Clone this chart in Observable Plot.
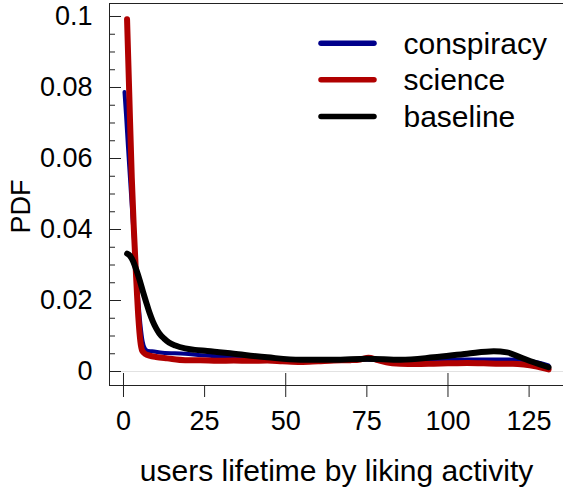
<!DOCTYPE html>
<html><head><meta charset="utf-8">
<script src="https://cdn.jsdelivr.net/npm/d3@7"></script>
<script src="https://cdn.jsdelivr.net/npm/@observablehq/plot@0.6"></script>
<style>html,body{margin:0;padding:0;background:#fff;}</style>
</head><body><div id="chart"></div>
<script>
// ---- data ----
const seriesNames = ["conspiracy", "science", "baseline"];
const seriesColors = ["#00008B", "#B00000", "#000000"];

const conspiracyX = [0.31, 0.8, 1.4, 2.0, 2.8, 3.6, 4.4, 5.2, 5.9, 6.6, 7.5, 8.8, 12, 19, 24, 35, 45, 55, 65, 75, 85, 95, 105, 115, 122, 127, 131];
const conspiracyY = [0.0787, 0.072, 0.063, 0.0545, 0.043, 0.032, 0.022, 0.0135, 0.0085, 0.0065, 0.0058, 0.0057, 0.0053, 0.0050, 0.0046, 0.0041, 0.0037, 0.0034, 0.0033, 0.0033, 0.0032, 0.0033, 0.0034, 0.0034, 0.0033, 0.0027, 0.0017];

const scienceX = [1.1, 1.8, 2.55, 3.2, 3.9, 4.6, 5.2, 5.8, 6.8, 8, 10, 13.5, 19, 23.7, 29, 34, 39, 44.3, 49, 54.5, 60, 64.8, 70, 73, 75.5, 78, 81, 85.4, 90, 95.6, 100, 105.9, 111, 116.2, 120, 123.4, 127, 131];
const scienceY = [0.0992, 0.0775, 0.0547, 0.040, 0.0266, 0.015, 0.0085, 0.0058, 0.0049, 0.0045, 0.0041, 0.0037, 0.0032, 0.0032, 0.0030, 0.0031, 0.0030, 0.0031, 0.0029, 0.0027, 0.0029, 0.0031, 0.0032, 0.0034, 0.0039, 0.0033, 0.0026, 0.0022, 0.0021, 0.0022, 0.0023, 0.0024, 0.0023, 0.0022, 0.0022, 0.0020, 0.0015, 0.0006];

const baselineX = [1.13, 2, 3, 4, 5, 6, 7, 8, 9, 10, 11, 12.5, 14, 16, 19, 22, 25.8, 34, 44.3, 54.5, 64.8, 75.1, 85.4, 95.6, 105.9, 114.1, 118.2, 122.3, 126.4, 131];
const baselineY = [0.0332, 0.0326, 0.0310, 0.0285, 0.0257, 0.0225, 0.0195, 0.0166, 0.0142, 0.0123, 0.0108, 0.0093, 0.0082, 0.0073, 0.0065, 0.0061, 0.0058, 0.0050, 0.0040, 0.0033, 0.0033, 0.0036, 0.0033, 0.0040, 0.0050, 0.0057, 0.0054, 0.0040, 0.0026, 0.0012];

const xTicks = [0, 25, 50, 75, 100, 125];
const xInnerTicks = [0, 50, 100];
const yTicks = [0, 0.02, 0.04, 0.06, 0.08, 0.1];
const yTickLabels = ["0", "0.02", "0.04", "0.06", "0.08", "0.1"];
const yMinorTicks = [0.005, 0.01, 0.015, 0.025, 0.03, 0.035, 0.045, 0.05, 0.055, 0.065, 0.07, 0.075, 0.085, 0.09, 0.095];
const xTitle = "users lifetime by liking activity";
const yTitle = "PDF";

// ---- layout ----
const W = 563, H = 487;
const mL = 109, mR = 0, mT = 3, mB = 102;
const xDomain = [-4.31, 135.6];
const yDomain = [-0.00394, 0.10366];
const xInv = px => xDomain[0] + (px - mL) / (W - mR - mL) * (xDomain[1] - xDomain[0]);
const yInv = py => yDomain[1] - (py - mT) / (H - mB - mT) * (yDomain[1] - yDomain[0]);

const allX = [conspiracyX, scienceX, baselineX];
const allY = [conspiracyY, scienceY, baselineY];
const widths = [4, 6, 6];
const rows = allX.map((xs, s) => xs.map((x, i) => ({x, y: allY[s][i], series: seriesNames[s]})));
const labelMap = new Map(yTicks.map((t, i) => [t, yTickLabels[i]]));

const font = "'Liberation Sans', Arial, Helvetica, sans-serif";
const ink = "#222";

const marks = [
  Plot.ruleY([0], {stroke: "#e2e2e2", strokeWidth: 1}),
  ...rows.map((r, s) => Plot.line(r, {x: "x", y: "y", stroke: seriesColors[s], strokeWidth: widths[s], curve: "monotone-x", strokeLinecap: "round", strokeLinejoin: "round"})),
  // box (top, left, bottom)
  Plot.ruleY([yDomain[1]], {stroke: ink, strokeWidth: 1}),
  Plot.ruleY([yDomain[0]], {stroke: ink, strokeWidth: 1}),
  Plot.ruleX([xDomain[0]], {stroke: ink, strokeWidth: 1}),
  // y axis
  Plot.axisY(yTicks, {anchor: "left", tickSize: -12, fill: "none", stroke: ink, label: null}),
  Plot.axisY(yMinorTicks, {anchor: "left", tickSize: -6, fill: "none", stroke: ink, label: null}),
  Plot.axisY(yTicks, {anchor: "left", tickSize: 0, tickPadding: 17, fontSize: 27, fill: "#000", tickFormat: d => labelMap.get(d), label: null}),
  // x axis
  Plot.axisX(xTicks, {anchor: "bottom", tickSize: 12, tickPadding: 13, fontSize: 27, stroke: ink, fill: "#000", label: null}),
  Plot.axisX(xInnerTicks, {anchor: "bottom", tickSize: -12, fill: "none", stroke: ink, label: null}),
  // titles
  Plot.text([xTitle], {text: d => d, frameAnchor: "bottom", textAnchor: "middle", lineAnchor: "middle", dy: 85.4, fontSize: 30, fill: "#000"}),
  Plot.text([yTitle], {text: d => d, frameAnchor: "left", textAnchor: "middle", lineAnchor: "middle", rotate: -90, dx: -88, dy: 12, fontSize: 27, fill: "#000"}),
  // legend
  ...seriesNames.map((name, i) => Plot.ruleY([yInv(42.7 + i * 36.65)], {x1: xInv(321), x2: xInv(374), stroke: seriesColors[i], strokeWidth: 5.5, strokeLinecap: "round"})),
  ...seriesNames.map((name, i) => Plot.text([name], {text: d => d, x: xInv(403), y: yInv(43.7 + i * 36.65), textAnchor: "start", lineAnchor: "middle", fontSize: 30, fill: "#000"}))
];

const chart = Plot.plot({
  width: W, height: H,
  marginLeft: mL, marginRight: mR, marginTop: mT, marginBottom: mB,
  x: {domain: xDomain, range: [mL, W - mR]},
  y: {domain: yDomain, range: [H - mB, mT]},
  style: {fontFamily: font, background: "#fff", color: "#000", overflow: "visible"},
  marks
});
document.getElementById("chart").appendChild(chart);
</script>
</body></html>
